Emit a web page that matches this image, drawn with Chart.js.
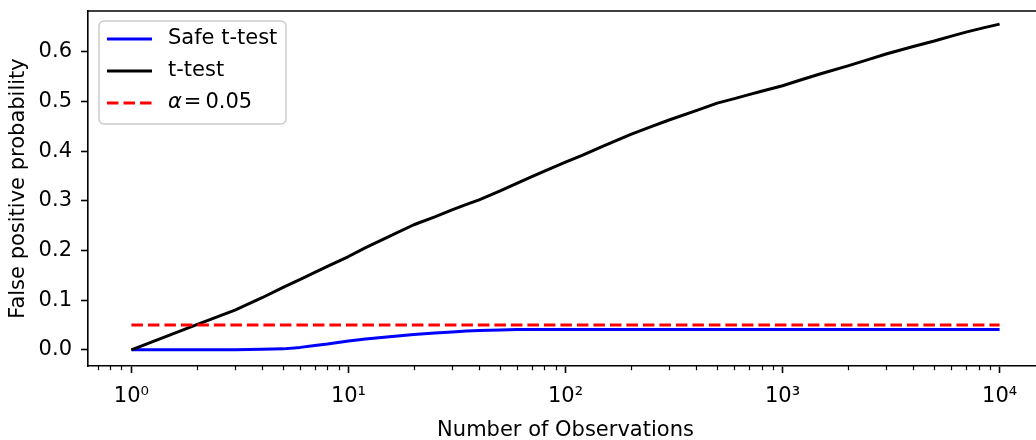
<!DOCTYPE html>
<html>
<head>
<meta charset="utf-8">
<script src="https://cdn.jsdelivr.net/npm/chart.js@4.4.1/dist/chart.umd.min.js"></script>
<style>
html, body { margin: 0; padding: 0; background: #fff; overflow: hidden; }
#wrap { width: 1036px; height: 440px; overflow: hidden; }
</style>
</head>
<body>
<div id="wrap"><canvas id="chart" width="1050" height="440"></canvas></div>
<script>
// values
var observations = [1, 2, 3, 4, 5, 6, 7, 8, 10, 12, 15, 20, 25, 30, 35, 40, 50, 60, 70, 80, 100, 120, 150, 200, 250, 300, 400, 500, 600, 700, 800, 1000, 1200, 1500, 2000, 2500, 3000, 4000, 5000, 6000, 7000, 8500, 10000];
var tTestRate    = [0, 0.051, 0.080, 0.105, 0.126, 0.142, 0.156, 0.168, 0.188, 0.206, 0.226, 0.252, 0.268, 0.282, 0.293, 0.302, 0.320, 0.336, 0.349, 0.360, 0.378, 0.392, 0.411, 0.434, 0.450, 0.463, 0.482, 0.497, 0.506, 0.514, 0.521, 0.532, 0.543, 0.556, 0.572, 0.585, 0.596, 0.611, 0.622, 0.632, 0.640, 0.649, 0.656];
var safeTestRate = [0, 0, 0, 0.001, 0.002, 0.005, 0.009, 0.012, 0.018, 0.022, 0.026, 0.031, 0.034, 0.036, 0.038, 0.039, 0.040, 0.041, 0.041, 0.041, 0.041, 0.041, 0.041, 0.041, 0.041, 0.041, 0.041, 0.041, 0.041, 0.041, 0.041, 0.041, 0.041, 0.041, 0.041, 0.041, 0.041, 0.041, 0.041, 0.041, 0.041, 0.041, 0.041];
var alphaX = [1, 10000];
var alphaLevel = [0.05, 0.05];

var seriesNames = ['Safe t-test', 't-test', 'α = 0.05'];
var xTickValues = [1, 10, 100, 1000, 10000];
var yTickValues = [0, 0.1, 0.2, 0.3, 0.4, 0.5, 0.6];
var xRange = [Math.pow(10, -0.2), Math.pow(10, 4.2)];
var yRange = [-0.0325, 0.6825];

var FONT = 'DejaVu Sans';
var supDigits = {'0':'⁰','1':'¹','2':'²','3':'³','4':'⁴','5':'⁵','6':'⁶','7':'⁷','8':'⁸','9':'⁹','-':'⁻'};

function toPoints(xs, ys) {
    return xs.map(function(x, i) { return {x: x, y: ys[i]}; });
}

function superscriptPower(v) {
    var p = String(Math.round(Math.log10(v)));
    return '10' + p.split('').map(function(c) { return supDigits[c]; }).join('');
}

// minor ticks, top spine and the boxed legend
var extras = {
    id: 'extras',
    afterDraw: function(chart) {
        var ctx = chart.ctx;
        var area = chart.chartArea;
        var xs = chart.scales.x;

        ctx.save();
        ctx.strokeStyle = '#000';
        ctx.lineWidth = 1.6;
        ctx.beginPath();
        ctx.moveTo(area.left, area.top);
        ctx.lineTo(area.right, area.top);
        ctx.lineTo(area.right, area.bottom);
        ctx.stroke();

        ctx.lineWidth = 1.2;
        for (var e = -1; e <= 4; e++) {
            for (var m = 2; m <= 9; m++) {
                var v = m * Math.pow(10, e);
                if (v < xs.min || v > xs.max) continue;
                var px = Math.round(xs.getPixelForValue(v)) + 0.5;
                ctx.beginPath();
                ctx.moveTo(px, area.bottom);
                ctx.lineTo(px, area.bottom + 4.2);
                ctx.stroke();
            }
        }

        // legend
        var lx = area.left + 11, ly = area.top + 10, lw = 187, lh = 103;
        ctx.fillStyle = 'rgba(255,255,255,0.8)';
        ctx.strokeStyle = '#cccccc';
        ctx.lineWidth = 1.5;
        ctx.beginPath();
        ctx.roundRect(lx, ly, lw, lh, 5);
        ctx.fill();
        ctx.stroke();

        var order = [0, 1, 2];
        order.forEach(function(idx, row) {
            var ds = chart.data.datasets[idx];
            var yy = ly + 18 + row * 32;
            ctx.strokeStyle = ds.borderColor;
            ctx.lineWidth = 3;
            ctx.setLineDash(ds.borderDash || []);
            ctx.beginPath();
            ctx.moveTo(lx + 8, yy);
            ctx.lineTo(lx + 53, yy);
            ctx.stroke();
            ctx.setLineDash([]);

            ctx.fillStyle = '#000';
            ctx.textBaseline = 'middle';
            ctx.textAlign = 'left';
            var tx = lx + 69;
            if (ds.label.indexOf('α') === 0) {
                ctx.font = 'italic 21px "' + FONT + '"';
                ctx.fillText('α', tx, yy);
                tx += ctx.measureText('α').width + 2;
                ctx.font = '21px "' + FONT + '"';
                ctx.fillText('=', tx, yy);
                tx += ctx.measureText('=').width + 4;
                ctx.fillText(ds.label.split('= ')[1], tx, yy);
            } else {
                ctx.font = '21px "' + FONT + '"';
                ctx.fillText(ds.label, tx, yy);
            }
        });
        ctx.restore();
    }
};

var ctx = document.getElementById('chart');

var data = {
    datasets: [{
        label: seriesNames[0],
        data: toPoints(observations, safeTestRate),
        borderColor: '#0000ff',
        borderWidth: 3,
        order: 2
    }, {
        label: seriesNames[1],
        data: toPoints(observations, tTestRate),
        borderColor: '#000000',
        borderWidth: 3,
        order: 1
    }, {
        label: seriesNames[2],
        data: toPoints(alphaX, alphaLevel),
        borderColor: '#ff0000',
        borderWidth: 3,
        borderDash: [11.5, 5],
        order: 0
    }]
};

var options = {
    responsive: false,
    animation: false,
    layout: { autoPadding: false, padding: { top: 11, right: 7, left: 0, bottom: 0 } },
    elements: {
        point: { radius: 0 },
        line: { tension: 0, fill: false, borderCapStyle: 'butt', borderJoinStyle: 'round' }
    },
    plugins: {
        legend: { display: false },
        tooltip: { enabled: false }
    },
    scales: {
        x: {
            type: 'logarithmic',
            bounds: 'data',
            min: xRange[0],
            max: xRange[1],
            afterFit: function(scale) {
                scale.height = 74;
                scale.paddingLeft = 0;
                scale.paddingRight = 0;
            },
            afterBuildTicks: function(scale) {
                scale.ticks = xTickValues.map(function(v) { return {value: v, major: true}; });
                scale.min = xRange[0];
                scale.max = xRange[1];
            },
            grid: { drawOnChartArea: false, drawTicks: true, tickLength: 7, tickWidth: 1.6, tickColor: '#000' },
            border: { display: true, color: '#000', width: 1.6 },
            ticks: {
                color: '#000',
                padding: 11,
                maxRotation: 0,
                autoSkip: false,
                font: { family: FONT, size: 21 },
                callback: function(value) { return superscriptPower(value); }
            },
            title: {
                display: true,
                text: 'Number of Observations',
                color: '#000',
                font: { family: FONT, size: 21 },
                padding: { top: 0, bottom: -3 }
            }
        },
        y: {
            type: 'linear',
            min: yRange[0],
            max: yRange[1],
            afterFit: function(scale) {
                scale.width = 88;
                scale.paddingTop = 0;
                scale.paddingBottom = 0;
            },
            afterBuildTicks: function(scale) {
                scale.ticks = yTickValues.map(function(v) { return {value: v}; });
                scale.min = yRange[0];
                scale.max = yRange[1];
            },
            grid: { drawOnChartArea: false, drawTicks: true, tickLength: 7, tickWidth: 1.6, tickColor: '#000' },
            border: { display: true, color: '#000', width: 1.6 },
            ticks: {
                color: '#000',
                padding: 9,
                font: { family: FONT, size: 21 },
                callback: function(value) { return value.toFixed(1); }
            },
            title: {
                display: true,
                text: 'False positive probability',
                color: '#000',
                font: { family: FONT, size: 21 },
                padding: { top: 6, bottom: 0 }
            }
        }
    }
};

var myChart = new Chart(ctx, {
    type: 'line',
    data: data,
    options: options,
    plugins: [extras]
});
</script>
</body>
</html>
